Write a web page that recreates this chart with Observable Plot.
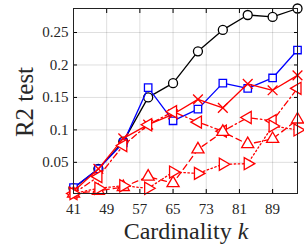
<!DOCTYPE html>
<html><head><meta charset="utf-8">
<script src="https://cdn.jsdelivr.net/npm/d3@7"></script>
<script src="https://cdn.jsdelivr.net/npm/@observablehq/plot@0.6"></script>
<style>body{margin:0;background:#fff}</style>
</head><body><div id="chart"></div>
<script>
const cardinality = [41, 47, 53, 59, 65, 71, 77, 83, 89, 95];
const blackCircle = [0.010, 0.040, 0.082, 0.150, 0.172, 0.221, 0.254, 0.277, 0.274, 0.287];
const blueSquare = [0.011, 0.040, 0.080, 0.165, 0.114, 0.132, 0.172, 0.164, 0.180, 0.223];
const redTimes = [0.005, 0.040, 0.087, 0.108, 0.124, 0.147, 0.134, 0.171, 0.161, 0.184];
const redLeft = [0.002, 0.028, 0.076, 0.108, 0.128, 0.112, 0.098, 0.119, 0.114, 0.164];
const redUp = [0.002, 0.006, 0.012, 0.028, 0.018, 0.070, 0.097, 0.078, 0.086, 0.116];
const redRight = [0.002, 0.010, 0.014, 0.010, 0.035, 0.033, 0.047, 0.048, 0.106, 0.100];
const xTicks = [41, 49, 57, 65, 73, 81, 89];
const yTicks = [0.05, 0.1, 0.15, 0.2, 0.25];

const sqrt3 = Math.sqrt(3);
const triLeft = {draw(c, size) { const y = -Math.sqrt(size / (sqrt3 * 3)); c.moveTo(2*y, 0); c.lineTo(-y, -sqrt3*y); c.lineTo(-y, sqrt3*y); c.closePath(); }};
const triRight = {draw(c, size) { const y = -Math.sqrt(size / (sqrt3 * 3)); c.moveTo(-2*y, 0); c.lineTo(y, sqrt3*y); c.lineTo(y, -sqrt3*y); c.closePath(); }};

const series = [
  {vals: blackCircle, color: "#000", symbol: "circle", dash: null, r: 4.5},
  {vals: blueSquare, color: "#0000ff", symbol: "square", dash: null, r: 4.2},
  {vals: redTimes, color: "#ff0000", symbol: "times", dash: null, r: 4.5},
  {vals: redLeft, color: "#ff0000", symbol: triLeft, dash: "6,3,1.5,3", r: 4.5},
  {vals: redUp, color: "#ff0000", symbol: "triangle", dash: "6,4", r: 4.5},
  {vals: redRight, color: "#ff0000", symbol: triRight, dash: "1.5,2.5", r: 4.5}
];

const marks = [
  Plot.gridX(xTicks, {stroke: "#000", strokeOpacity: 0.13}),
  Plot.gridY(yTicks, {stroke: "#000", strokeOpacity: 0.13}),
  Plot.axisX(xTicks, {anchor: "bottom", tickSize: -4, tickPadding: 14, fontSize: 15, fill: "#262626", label: null}),
  Plot.axisX(xTicks, {anchor: "top", tickSize: -4, tickFormat: () => "", label: null}),
  Plot.axisY(yTicks, {anchor: "left", tickSize: -4, tickPadding: 9, fontSize: 15, fill: "#262626", tickFormat: d3.format("~g"), label: null}),
  Plot.axisY(yTicks, {anchor: "right", tickSize: -4, tickFormat: () => "", label: null})
];
for (const s of series) {
  const data = cardinality.map((k, i) => ({k, v: s.vals[i]}));
  marks.push(Plot.line(data, {x: "k", y: "v", stroke: s.color, strokeWidth: 1.3, strokeDasharray: s.dash}));
  marks.push(Plot.dot(data, {x: "k", y: "v", stroke: s.color, fill: s.symbol === "times" ? "none" : "white", symbol: s.symbol, r: s.r, strokeWidth: 1.3}));
}
marks.push(Plot.frame({stroke: "#222", strokeWidth: 1}));

const chart = Plot.plot({
  width: 304, height: 250,
  marginLeft: 73, marginRight: 7, marginTop: 8, marginBottom: 57,
  style: {fontFamily: "Liberation Serif", background: "#fff"},
  x: {domain: [41, 95]},
  y: {domain: [0.002, 0.287]},
  marks
});
document.getElementById("chart").appendChild(chart);
const svg = d3.select(chart);
const xl = svg.append("text").attr("x", 186).attr("y", 239).attr("text-anchor", "middle")
  .attr("font-size", 24).attr("font-family", "Liberation Serif").attr("fill", "#262626");
xl.append("tspan").text("Cardinality ");
xl.append("tspan").attr("font-style", "italic").text("k");
svg.append("text").attr("transform", "translate(33,102) rotate(-90)").attr("text-anchor", "middle")
  .attr("font-size", 25).attr("font-family", "Liberation Serif").attr("fill", "#262626").text("R2 test");
</script></body></html>
